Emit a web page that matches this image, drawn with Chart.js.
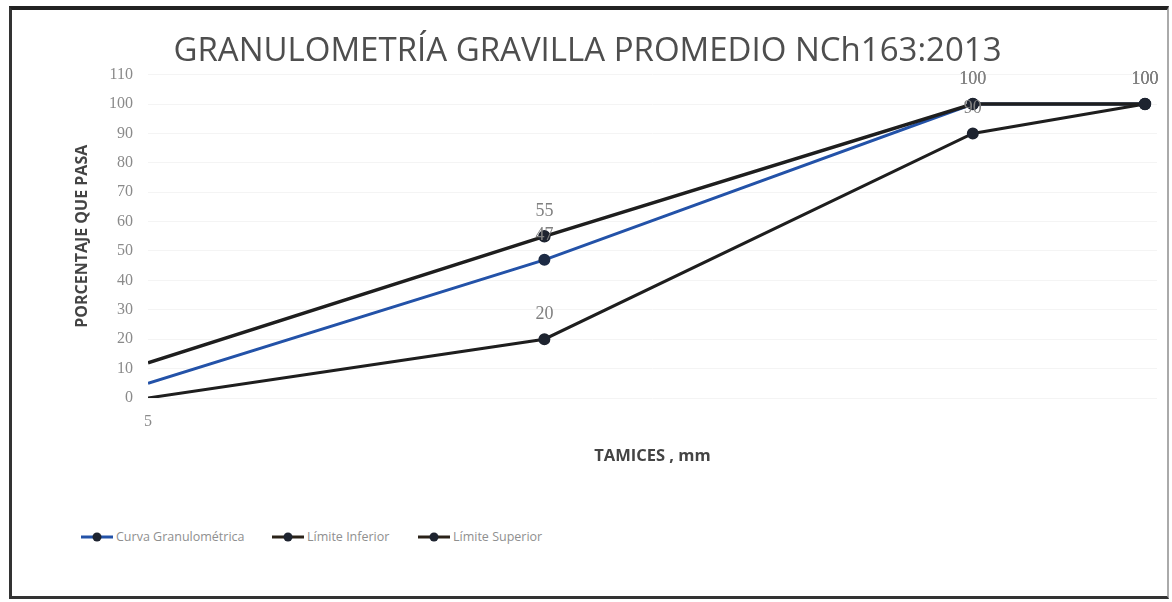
<!DOCTYPE html>
<html>
<head>
<meta charset="utf-8">
<script src="https://cdn.jsdelivr.net/npm/chart.js@4.4.1/dist/chart.umd.min.js"></script>
<style>
  html, body { margin: 0; padding: 0; background: #fff; }
  body { width: 1172px; height: 602px; position: relative; overflow: hidden; }
  #frame { position: absolute; left: 9px; top: 6px; width: 1160px; height: 593px;
           border-top: 4px solid #222; border-left: 3px solid #333; border-bottom: 3px solid #333; border-right: 2px solid #aaa; box-sizing: border-box; }
  #wrap { position: absolute; left: 10px; top: 10px; width: 1155px; height: 480px; }
  #legend { position: absolute; top: 529px; left: 81px; font-family: "Open Sans", sans-serif; font-size: 12.5px; color: #8f8f8f; white-space: nowrap; }
  .item { position: absolute; top: 0; height: 16px; line-height: 16px; }
  .item svg { position: absolute; left: 0; top: 2px; }
  .item span { position: absolute; top: 0; }
</style>
</head>
<body>
<div id="frame"></div>
<div id="wrap"><canvas id="c"></canvas></div>
<div id="legend"></div>
<script>
// ---- data ----
const sieveX = [5, 14.9, 25.6, 29.9];           // positions read along the x axis (mm)
const curvaGranulometrica = [5, 47, 100, 100];
const limiteInferior = [0, 20, 90, 100];
const limiteSuperior = [12, 55, 100, 100];
const seriesNames = ['Curva Granulométrica', 'Límite Inferior', 'Límite Superior'];
const xTickLabels = [5];
const xRange = { min: 5, max: 30.2 };
const yTicks = { min: 0, max: 110, step: 10 };

const toPts = (vals) => vals.map((v, i) => ({ x: sieveX[i], y: v }));

const radius = (ctx) => (ctx.dataIndex === 0 ? 0 : 4.5);

const labelPlugin = {
  id: 'valueLabels',
  afterDatasetsDraw(chart) {
    const ctx = chart.ctx;
    ctx.save();
    ctx.font = '18px "Liberation Serif", "DejaVu Serif", serif';
    ctx.fillStyle = '#808080';
    ctx.textAlign = 'center';
    ctx.textBaseline = 'middle';
    chart.data.datasets.forEach((ds, di) => {
      const meta = chart.getDatasetMeta(di);
      meta.data.forEach((pt, i) => {
        if (i === 0) return;
        ctx.fillText(String(ds.data[i].y), pt.x, pt.y - 25);
      });
    });
    ctx.restore();
  }
};

new Chart(document.getElementById('c'), {
  type: 'scatter',
  data: {
    datasets: [
      { label: seriesNames[0], data: toPts(curvaGranulometrica), showLine: true,
        borderColor: '#2352a8', borderWidth: 3, pointBackgroundColor: '#1d2b45', pointBorderColor: '#1d2b45',
        pointRadius: radius, order: 3 },
      { label: seriesNames[1], data: toPts(limiteInferior), showLine: true,
        borderColor: '#1e1e1e', borderWidth: 3, pointBackgroundColor: '#1e2430', pointBorderColor: '#1e2430',
        pointRadius: radius, order: 2 },
      { label: seriesNames[2], data: toPts(limiteSuperior), showLine: true,
        borderColor: '#1e1e1e', borderWidth: 3.5, pointBackgroundColor: '#1e2430', pointBorderColor: '#1e2430',
        pointRadius: radius, order: 1 }
    ]
  },
  options: {
    responsive: true, maintainAspectRatio: false, animation: false,
    layout: { padding: { left: 0, right: 0, top: 0, bottom: 0 } },
    plugins: {
      legend: { display: false },
      tooltip: { enabled: false },
      title: { display: true, text: 'GRANULOMETRÍA GRAVILLA PROMEDIO NCh163:2013',
        font: { family: '"Open Sans", sans-serif', size: 33, weight: 'normal', lineHeight: 1.2 }, color: '#4e4e4e',
        padding: { top: 22, bottom: 3 } }
    },
    scales: {
      x: {
        type: 'linear', min: xRange.min, max: xRange.max,
        afterBuildTicks: (s) => { s.ticks = xTickLabels.map(v => ({ value: v })); },
        afterFit: (s) => { s.height = 92; },
        grid: { display: false, drawTicks: false },
        border: { display: false },
        ticks: { color: '#8a8a8a', padding: 14, font: { family: '"Liberation Serif", serif', size: 16 } },
        title: { display: true, text: 'TAMICES , mm', color: '#444',
          font: { family: '"Open Sans", sans-serif', size: 16.5, weight: 'bold' }, padding: { top: 0, bottom: 24 } }
      },
      y: {
        min: yTicks.min, max: yTicks.max,
        afterFit: (s) => { s.width = 138; },
        grid: { color: '#f4f4f4', drawTicks: false },
        border: { display: false },
        ticks: { stepSize: yTicks.step, color: '#8a8a8a', padding: 15, font: { family: '"Liberation Serif", serif', size: 16 } },
        title: { display: true, text: 'PORCENTAJE QUE PASA', color: '#444',
          font: { family: '"Open Sans", sans-serif', size: 16, weight: 'bold' }, padding: { top: 63, bottom: 0 } }
      }
    }
  },
  plugins: [labelPlugin]
});

// legend (HTML, built from the series names)
const legendColors = ['#2352a8', '#2a2218', '#2a2218'];
const legendLeft = [0, 191, 337];
const leg = document.getElementById('legend');
seriesNames.forEach((name, i) => {
  const d = document.createElement('div');
  d.className = 'item';
  d.style.left = legendLeft[i] + 'px';
  d.innerHTML = '<svg width="32" height="12"><line x1="0" y1="6" x2="32" y2="6" stroke="' + legendColors[i] +
    '" stroke-width="3"/><circle cx="16" cy="6" r="4.5" fill="#1e2430"/></svg><span style="left:35px">' + name + '</span>';
  leg.appendChild(d);
});
</script>
</body>
</html>
